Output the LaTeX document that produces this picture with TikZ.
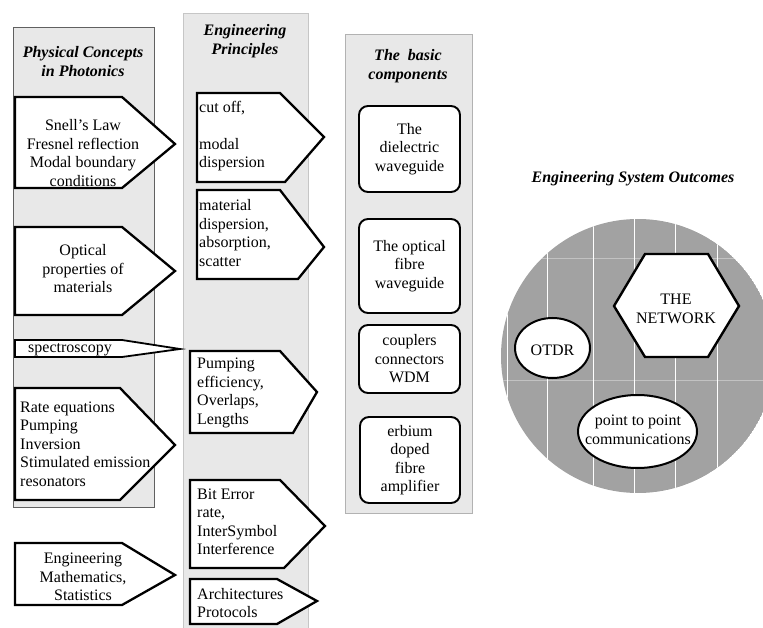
\documentclass[tikz,border=0pt]{standalone}
\usepackage{fontspec}
\setmainfont{Liberation Serif}
\definecolor{colfill}{RGB}{232,232,232}
\definecolor{circfill}{RGB}{162,162,162}
\begin{document}
\begin{tikzpicture}[x=1pt,y=-1pt,
  colbox/.style={fill=colfill,draw=#1,line width=0.9pt},
  arr/.style={draw=black,fill=white,line width=2.3pt,line join=miter},
  body/.style={font=\fontsize{16}{18.5}\selectfont,align=center,inner sep=0pt},
  bodyl/.style={font=\fontsize{16}{18.5}\selectfont,align=left,inner sep=0pt},
  ttl/.style={font=\fontsize{16}{19}\selectfont\bfseries\itshape,align=center,inner sep=0pt},
  comp/.style={draw=black,fill=white,line width=1.9pt,rounded corners=9pt,
    font=\fontsize{16}{18.5}\selectfont,align=center,inner sep=0pt},
  outl/.style={draw=black,fill=white,line width=2pt},
]
\useasboundingbox (0,0) rectangle (763,628);

% columns
\path[colbox=gray!75!black] (13,27) rectangle (154,507);
\fill[colfill] (183,13) rectangle (308,640);
\draw[gray!45,line width=0.9pt] (183,640) -- (183,13) -- (308,13) -- (308,640);
\path[colbox=gray!60] (345,34) rectangle (472,513);

% column titles
\node[ttl] (t1) at (83,62) {Physical Concepts\\in Photonics};
\node[ttl] (t2) at (245,41) {Engineering\\Principles};
\node[ttl] (t3) at (408,66) {The\ \ basic\\components};
\node[ttl] (t4) at (633,179) {Engineering System Outcomes};

% column 1 arrows
\draw[arr] (15,97) -- (122,97) -- (175,144) -- (122,188) -- (15,188) -- cycle;
\node[body] (p1) at (83,153) {Snell's Law\\Fresnel reflection\\Modal boundary\\conditions};
\draw[arr] (15,227) -- (122,227) -- (175,271) -- (122,315) -- (15,315) -- cycle;
\node[body] (p2) at (83,269) {Optical\\properties of\\materials};
\draw[arr,line width=1.8pt] (15,340) -- (122,340) -- (180,349) -- (122,357) -- (15,357) -- cycle;
\node[body] (p3) at (70,350) {spectroscopy};
\draw[arr] (15,388) -- (120,388) -- (175,445) -- (120,500) -- (15,500) -- cycle;
\node[bodyl,anchor=west] (p4) at (20,444) {Rate equations\\Pumping\\Inversion\\Stimulated emission\\resonators};
\draw[arr] (15,543) -- (122,543) -- (175,575) -- (122,605) -- (15,605) -- cycle;
\node[body] (p5) at (83,577) {Engineering\\Mathematics,\\Statistics};

% column 2 arrows
\draw[arr] (197,93) -- (280,93) -- (324,137) -- (285,182) -- (197,182) -- cycle;
\node[bodyl,anchor=west] (e1) at (199,136) {cut off,\\[18.5pt]modal\\dispersion};
\draw[arr] (197,190) -- (280,190) -- (324,247) -- (298,279) -- (197,279) -- cycle;
\node[bodyl,anchor=west] (e2) at (199,233) {material\\dispersion,\\absorption,\\scatter};
\draw[arr] (190,351) -- (280,351) -- (317,392) -- (293,433) -- (190,433) -- cycle;
\node[bodyl,anchor=west] (e3) at (197,393) {Pumping\\efficiency,\\Overlaps,\\Lengths};
\draw[arr] (190,480) -- (280,480) -- (325,526) -- (284,568) -- (190,568) -- cycle;
\node[bodyl,anchor=west] (e4) at (197,522) {Bit Error\\rate,\\InterSymbol\\Interference};
\draw[arr] (190,579) -- (277,579) -- (317,601) -- (277,624) -- (190,624) -- cycle;
\node[bodyl,anchor=west] (e5) at (197,603) {Architectures\\Protocols};

% column 3 components
\node[comp,minimum width=101pt,minimum height=86pt] (c1) at (409.5,149) {The\\dielectric\\waveguide};
\node[comp,minimum width=101pt,minimum height=94pt] (c2) at (409.5,266) {The optical\\fibre\\waveguide};
\node[comp,minimum width=101pt,minimum height=68pt] (c3) at (409.5,359) {couplers\\connectors\\WDM};
\node[comp,minimum width=100pt,minimum height=86pt] (c4) at (410,460) {erbium\\doped\\fibre\\amplifier};

% outcomes circle
\begin{scope}
  \clip (638,356) circle [radius=137pt];
  \fill[circfill] (638,356) circle [radius=137pt];
  \foreach \xx in {507,547,593,634,675,717}
    \draw[white,line width=0.8pt] (\xx,210) -- (\xx,500);
  \draw[white,opacity=0.35,line width=0.8pt] (495,258) -- (780,258);
  \draw[white,opacity=0.35,line width=0.8pt] (495,380) -- (780,380);
\end{scope}
\draw[outl,line width=2.4pt,line join=miter] (614,306) -- (645,254) -- (708,254) -- (739,306) -- (708,357) -- (645,357) -- cycle;
\node[body] (net) at (676,309) {THE\\NETWORK};
\draw[outl] (552.5,348) ellipse [x radius=37.5pt, y radius=30pt];
\node[body] (otdr) at (552.5,350) {OTDR};
\draw[outl] (637.5,431.5) ellipse [x radius=59.5pt, y radius=36.5pt];
\node[body] (ptp) at (638,430) {point to point\\communications};
\end{tikzpicture}
\end{document}
